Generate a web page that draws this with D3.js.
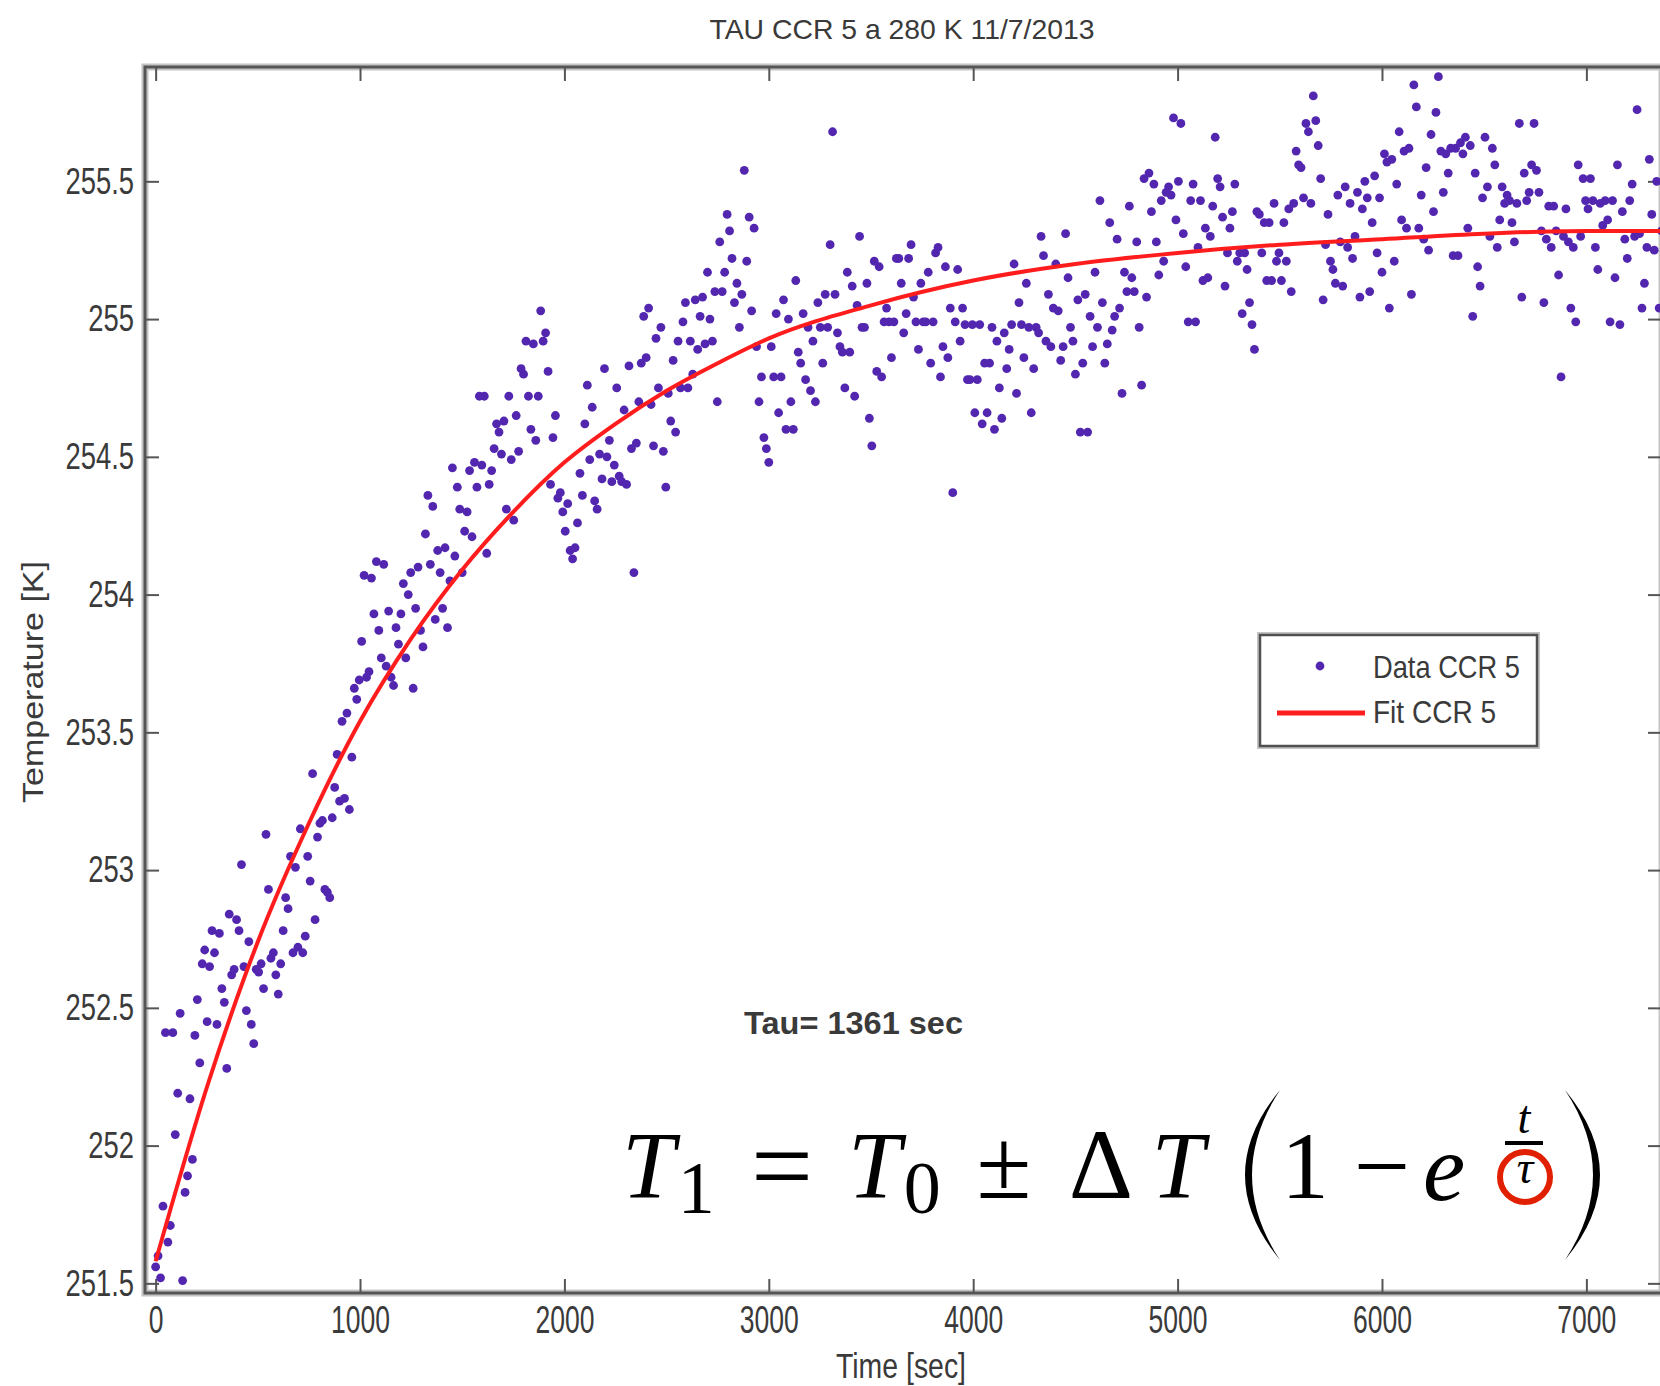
<!DOCTYPE html>
<html lang="en">
<head>
<meta charset="UTF-8" />
<title>TAU CCR 5 a 280 K 11/7/2013</title>
<script src="https://cdnjs.cloudflare.com/ajax/libs/d3/7.9.0/d3.min.js"></script>
<style>
  html, body { margin: 0; padding: 0; background: #fff; }
  svg { display: block; }
  .lbl { font-family: "Liberation Sans", Arial, sans-serif; fill: #3a3a3a; }
  .math { font-family: "Liberation Serif", "Times New Roman", serif; fill: #000; }
</style>
</head>
<body>
<svg id="chart" width="1660" height="1386"></svg>
<script>
/* ---------------- data ---------------- */
const titleText = "TAU CCR 5 a 280 K 11/7/2013";
const xTicks = [0, 1000, 2000, 3000, 4000, 5000, 6000, 7000];
const yTicks = [251.5, 252, 252.5, 253, 253.5, 254, 254.5, 255, 255.5];
const legendLabels = ["Data CCR 5", "Fit CCR 5"];
const tauLabel = "Tau= 1361 sec";

// logger sample period (s); one reading per sample
const sampleSec = 12;
// measured temperature, K
const tempK = [
  251.56, 251.60, 251.52, 251.78, 252.41, 251.65, 251.71, 252.41, 252.04, 252.19,
  252.48, 251.51, 251.83, 251.89, 252.17, 251.95, 252.40, 252.53, 252.30, 252.66,
  252.71, 252.45, 252.65, 252.78, 252.70, 252.44, 252.77, 252.57, 252.52, 252.28,
  252.84, 252.62, 252.64, 252.82, 252.78, 253.02, 252.65, 252.49, 252.74, 252.44,
  252.37, 252.64, 252.63, 252.66, 252.57, 253.13, 252.93, 252.68, 252.70, 252.62,
  252.55, 252.66, 252.78, 252.90, 252.86, 253.05, 252.70, 253.01, 252.72, 253.15,
  252.70, 252.76, 253.05, 252.96, 253.35, 252.82, 253.12, 253.17, 253.18, 252.93,
  252.92, 252.90, 253.19, 253.30, 253.42, 253.25, 253.54, 253.26, 253.57, 253.22,
  253.41, 253.66, 253.62, 253.69, 253.83, 254.07, 253.70, 253.72, 254.06, 253.93,
  254.12, 253.87, 253.77, 254.11, 253.74, 253.94, 253.70, 253.67, 253.88, 253.82,
  253.93, 254.04, 253.77, 254.00, 254.08, 253.66, 253.95, 254.10, 253.87, 253.81,
  254.22, 254.36, 254.11, 254.32, 253.91, 254.16, 254.08, 253.95, 254.17, 253.88,
  254.05, 254.46, 254.14, 254.39, 254.31, 254.08, 254.23, 254.30, 254.45, 254.21,
  254.48, 254.39, 254.72, 254.47, 254.72, 254.15, 254.40, 254.45, 254.53, 254.62,
  254.59, 254.51, 254.63, 254.31, 254.72, 254.49, 254.27, 254.65, 254.52, 254.82,
  254.80, 254.92, 254.72, 254.60, 254.91, 254.56, 254.72, 255.03, 254.92, 254.95,
  254.81, 254.40, 254.57, 254.65, 254.35, 254.37, 254.30, 254.23, 254.33, 254.16,
  254.13, 254.17, 254.26, 254.44, 254.36, 254.62, 254.76, 254.49, 254.68, 254.34,
  254.31, 254.51, 254.42, 254.82, 254.50, 254.56, 254.41, 254.47, 254.75, 254.43,
  254.41, 254.67, 254.40, 254.83, 254.53, 254.08, 254.55, 254.70, 254.84, 255.01,
  254.86, 255.04, 254.69, 254.54, 254.93, 254.75, 254.97, 254.52, 254.39, 254.73,
  254.63, 254.85, 254.59, 254.92, 254.75, 254.99, 255.06, 254.75, 254.92, 254.80,
  255.07, 254.89, 255.01, 255.08, 254.91, 255.17, 255.00, 254.92, 255.10, 254.70,
  255.28, 255.10, 255.17, 255.38, 255.32, 255.22, 255.06, 255.13, 254.97, 255.09,
  255.54, 255.21, 255.37, 255.03, 255.33, 254.90, 254.70, 254.79, 254.57, 254.53,
  254.48, 254.90, 254.79, 255.02, 254.66, 254.79, 255.07, 254.60, 255.00, 254.70,
  254.60, 255.14, 254.88, 254.84, 255.02, 254.78, 254.97, 254.74, 254.92, 254.70,
  255.06, 254.97, 254.84, 255.09, 254.97, 255.27, 255.68, 255.09, 254.95, 254.90,
  254.88, 254.75, 255.17, 254.88, 255.12, 254.72, 255.05, 255.30, 254.97, 254.97,
  255.13, 254.64, 254.54, 255.21, 254.81, 255.19, 254.79, 254.99, 255.04, 254.99,
  254.86, 254.99, 255.22, 255.22, 255.13, 254.95, 255.02, 255.22, 255.27, 255.08,
  254.99, 254.89, 255.13, 254.99, 254.99, 255.17, 254.84, 254.99, 255.24, 255.26,
  254.79, 254.90, 255.19, 254.86, 255.04, 254.37, 254.99, 255.18, 254.92, 255.04,
  254.98, 254.78, 254.78, 254.98, 254.66, 254.78, 254.98, 254.62, 254.84, 254.66,
  254.84, 254.97, 254.60, 254.92, 254.75, 254.64, 254.95, 254.82, 254.89, 254.98,
  255.20, 254.73, 255.06, 254.98, 254.86, 255.13, 254.97, 254.66, 254.82, 254.97,
  254.95, 255.30, 255.23, 254.92, 255.09, 254.90, 255.04, 255.20, 255.03, 254.85,
  254.90, 255.31, 255.15, 254.97, 254.92, 254.80, 255.07, 254.59, 254.84, 255.09,
  254.59, 255.01, 254.90, 255.17, 254.97, 255.43, 255.06, 254.84, 254.91, 255.35,
  254.96, 255.01, 255.29, 255.04, 254.73, 255.17, 255.10, 255.41, 255.15, 255.10,
  255.28, 254.97, 254.76, 255.51, 255.08, 255.53, 255.39, 255.49, 255.28, 255.16,
  255.43, 255.21, 255.46, 255.48, 255.45, 255.73, 255.36, 255.50, 255.71, 255.31,
  255.19, 254.99, 255.43, 255.49, 254.99, 255.26, 255.43, 255.14, 255.33, 255.15,
  255.30, 255.41, 255.66, 255.51, 255.48, 255.37, 255.12, 255.24, 255.33, 255.39,
  255.49, 255.21, 255.24, 255.02, 255.24, 255.18, 255.06, 254.98, 254.89, 255.39,
  255.38, 255.24, 255.35, 255.14, 255.35, 255.14, 255.42, 255.21, 255.24, 255.14,
  255.35, 255.21, 255.40, 255.10, 255.42, 255.61, 255.56, 255.55, 255.44, 255.71,
  255.68, 255.42, 255.81, 255.72, 255.63, 255.51, 255.07, 255.27, 255.38, 255.21,
  255.18, 255.13, 255.45, 255.28, 255.12, 255.48, 255.26, 255.42, 255.22, 255.30,
  255.46, 255.08, 255.40, 255.50, 255.44, 255.10, 255.35, 255.52, 255.24, 255.44,
  255.17, 255.60, 255.57, 255.04, 255.58, 255.21, 255.49, 255.68, 255.36, 255.61,
  255.33, 255.62, 255.09, 255.85, 255.77, 255.33, 255.45, 255.29, 255.55, 255.25,
  255.67, 255.39, 255.75, 255.88, 255.61, 255.46, 255.60, 255.53, 255.62, 255.23,
  255.62, 255.23, 255.64, 255.60, 255.66, 255.33, 255.63, 255.01, 255.53, 255.19,
  255.12, 255.44, 255.66, 255.48, 255.30, 255.62, 255.56, 255.26, 255.36, 255.48,
  255.42, 255.45, 255.43, 255.35, 255.28, 255.42, 255.71, 255.08, 255.53, 255.43,
  255.46, 255.56, 255.71, 255.54, 255.46, 255.32, 255.06, 255.29, 255.41, 255.26,
  255.41, 255.32, 255.16, 254.79, 255.30, 255.40, 255.28, 255.04, 255.26, 254.99,
  255.56, 255.30, 255.51, 255.43, 255.40, 255.51, 255.43, 255.26, 255.18, 255.42,
  255.34, 255.43, 255.36, 254.99, 255.43, 255.15, 255.56, 254.98, 255.39, 255.29,
  255.22, 255.43, 255.49, 255.30, 255.76, 255.31, 255.04, 255.13, 255.26, 255.58,
  255.38, 255.25, 255.50, 255.04, 255.32
];

// fitted curve
const fitTime = [0, 250, 500, 750, 1000, 1250, 1500, 1750, 2000, 2250, 2500, 2750, 3000, 3500, 4000, 4500, 5000, 5500, 6000, 6500, 7000, 7370];
const fitTemp = [251.58, 252.21, 252.74, 253.17, 253.54, 253.84, 254.09, 254.30, 254.48, 254.62, 254.74, 254.84, 254.93, 255.05, 255.14, 255.20, 255.24, 255.27, 255.29, 255.31, 255.32, 255.32];

/* ---------------- layout ---------------- */
const frame = { left: 145, top: 67, right: 1662, bottom: 1293 };
const dotColor = "#5226b0";
const fitColor = "#ff1e1e";
const axisColor = "#555";

const x = d3.scaleLinear().domain([-52, 7370]).range([frame.left, frame.right]);
const y = d3.scaleLinear().domain([251.465, 255.915]).range([frame.bottom, frame.top]);

const svg = d3.select("#chart");
const defs = svg.append("defs");
defs.append("clipPath").attr("id", "plotClip")
  .append("rect")
  .attr("x", frame.left).attr("y", frame.top)
  .attr("width", frame.right - frame.left).attr("height", frame.bottom - frame.top);
defs.append("filter").attr("id", "soft")
  .append("feGaussianBlur").attr("stdDeviation", 0.6);

// squeeze text horizontally to match the narrow font of the original
function squeeze(sel, factor) {
  sel.each(function () {
    const w = this.getComputedTextLength();
    d3.select(this).attr("textLength", w * factor).attr("lengthAdjust", "spacingAndGlyphs");
  });
}
function fitWidth(sel, width) {
  return sel.attr("textLength", width).attr("lengthAdjust", "spacingAndGlyphs");
}

/* ---------------- frame ---------------- */
svg.append("rect")
  .attr("x", frame.left).attr("y", frame.top)
  .attr("width", frame.right - frame.left).attr("height", frame.bottom - frame.top)
  .attr("fill", "none").attr("stroke", "#c4c4c4").attr("stroke-width", 7);
svg.append("rect")
  .attr("x", frame.left).attr("y", frame.top)
  .attr("width", frame.right - frame.left).attr("height", frame.bottom - frame.top)
  .attr("fill", "none").attr("stroke", axisColor).attr("stroke-width", 3);

/* ---------------- axes (ticks inward, like MATLAB) ---------------- */
function styleAxis(g) {
  g.select(".domain").remove();
  g.selectAll(".tick line").attr("stroke", axisColor).attr("stroke-width", 2);
  g.attr("font-family", null).attr("font-size", null);
}

const gx = svg.append("g")
  .attr("transform", `translate(0,${frame.bottom})`)
  .call(d3.axisBottom(x).tickValues(xTicks).tickSizeInner(-14).tickSizeOuter(0)
    .tickPadding(12).tickFormat(d => String(d)));
styleAxis(gx);
gx.selectAll(".tick text").attr("class", "lbl").attr("font-size", 39).attr("fill", "#3a3a3a");
squeeze(gx.selectAll(".tick text"), 0.68);

const gxTop = svg.append("g")
  .attr("transform", `translate(0,${frame.top})`)
  .call(d3.axisTop(x).tickValues(xTicks).tickSizeInner(-14).tickSizeOuter(0).tickFormat(""));
styleAxis(gxTop);

const gy = svg.append("g")
  .attr("transform", `translate(${frame.left},0)`)
  .call(d3.axisLeft(y).tickValues(yTicks).tickSizeInner(-14).tickSizeOuter(0)
    .tickPadding(11).tickFormat(d => String(d)));
styleAxis(gy);
gy.selectAll(".tick text").attr("class", "lbl").attr("font-size", 37).attr("fill", "#3a3a3a");
squeeze(gy.selectAll(".tick text"), 0.74);

const gyRight = svg.append("g")
  .attr("transform", `translate(${frame.right},0)`)
  .call(d3.axisRight(y).tickValues(yTicks).tickSizeInner(-14).tickSizeOuter(0).tickFormat(""));
styleAxis(gyRight);

/* ---------------- marks ---------------- */
const plot = svg.append("g").attr("clip-path", "url(#plotClip)");

plot.append("g").attr("filter", "url(#soft)")
  .selectAll("circle")
  .data(tempK.map((v, i) => ({ t: i * sampleSec, v })))
  .join("circle")
  .attr("cx", d => x(d.t))
  .attr("cy", d => y(d.v))
  .attr("r", 4.4)
  .attr("fill", dotColor);

plot.append("path")
  .datum(d3.zip(fitTime, fitTemp))
  .attr("fill", "none")
  .attr("stroke", fitColor)
  .attr("stroke-width", 4)
  .attr("filter", "url(#soft)")
  .attr("d", d3.line().x(d => x(d[0])).y(d => y(d[1])).curve(d3.curveMonotoneX));

/* ---------------- titles ---------------- */
fitWidth(svg.append("text").attr("class", "lbl")
  .attr("x", 902).attr("y", 39).attr("text-anchor", "middle")
  .attr("font-size", 28).text(titleText), 385);

fitWidth(svg.append("text").attr("class", "lbl")
  .attr("x", 901).attr("y", 1378).attr("text-anchor", "middle")
  .attr("font-size", 35).text("Time [sec]"), 130);

fitWidth(svg.append("text").attr("class", "lbl")
  .attr("transform", "translate(43,682) rotate(-90)")
  .attr("text-anchor", "middle")
  .attr("font-size", 30).text("Temperature [K]"), 242);

/* ---------------- legend ---------------- */
const legend = svg.append("g");
legend.append("rect")
  .attr("x", 1260).attr("y", 635).attr("width", 277).attr("height", 111)
  .attr("fill", "#fff").attr("stroke", "#c4c4c4").attr("stroke-width", 6);
legend.append("rect")
  .attr("x", 1260).attr("y", 635).attr("width", 277).attr("height", 111)
  .attr("fill", "#fff").attr("stroke", "#505050").attr("stroke-width", 2.5);
legend.append("circle").attr("cx", 1320).attr("cy", 666).attr("r", 4.4)
  .attr("fill", dotColor).attr("filter", "url(#soft)");
legend.append("line").attr("x1", 1277).attr("x2", 1365).attr("y1", 713).attr("y2", 713)
  .attr("stroke", fitColor).attr("stroke-width", 5);
fitWidth(legend.append("text").attr("class", "lbl").attr("x", 1373).attr("y", 678)
  .attr("font-size", 32).text(legendLabels[0]), 147);
fitWidth(legend.append("text").attr("class", "lbl").attr("x", 1373).attr("y", 723)
  .attr("font-size", 32).text(legendLabels[1]), 123);

/* ---------------- annotation ---------------- */
fitWidth(svg.append("text").attr("class", "lbl")
  .attr("x", 744).attr("y", 1034).attr("font-size", 32)
  .attr("font-weight", "bold").attr("fill", "#222").text(tauLabel), 219);

/* ---------------- formula T1 = T0 ± ΔT (1 − e^(t/τ)) ---------------- */
const eq = svg.append("g").attr("class", "math");

// symbols with a subscript: base and index in one text element
const subbed = [
  { base: "T", sub: "1", x: 622 },
  { base: "T", sub: "0", x: 848 }
];
subbed.forEach(d => {
  const t = eq.append("text").attr("x", d.x).attr("y", 1198).attr("font-size", 95);
  t.append("tspan").attr("font-style", "italic").text(d.base);
  t.append("tspan").attr("font-size", 74).attr("dx", 3).attr("dy", 15).text(d.sub);
});

const glyphs = [
  { s: "=", cx: 782, by: 1203, size: 110, it: false },
  { s: "±", cx: 1004, by: 1198, size: 100, it: false },
  { s: "Δ", cx: 1101, by: 1198, size: 100, it: false },
  { s: "T", cx: 1178, by: 1198, size: 95, it: true },
  { s: "1", cx: 1305, by: 1198, size: 95, it: false },
  { s: "−", cx: 1382, by: 1200, size: 100, it: false },
  { s: "e", cx: 1444, by: 1200, size: 95, it: true },
  { s: "t", cx: 1524, by: 1133, size: 46, it: true },
  { s: "τ", cx: 1525, by: 1183, size: 46, it: true }
];
eq.selectAll("text.g")
  .data(glyphs)
  .join("text")
  .attr("class", "g")
  .attr("x", d => d.cx)
  .attr("y", d => d.by)
  .attr("text-anchor", "middle")
  .attr("font-size", d => d.size)
  .attr("font-style", d => d.it ? "italic" : "normal")
  .text(d => d.s);

// fraction bar
eq.append("line").attr("x1", 1505).attr("x2", 1543).attr("y1", 1143).attr("y2", 1143)
  .attr("stroke", "#000").attr("stroke-width", 4);
// tall parentheses
eq.append("path").attr("fill", "#000")
  .attr("d", "M1280,1090 Q1210,1175 1280,1260 Q1224,1175 1280,1090 Z");
eq.append("path").attr("fill", "#000")
  .attr("d", "M1565,1090 Q1635,1175 1565,1260 Q1621,1175 1565,1090 Z");
// red circle around tau
eq.append("circle").attr("cx", 1525).attr("cy", 1177).attr("r", 25)
  .attr("fill", "none").attr("stroke", "#e02000").attr("stroke-width", 6);
</script>
</body>
</html>
